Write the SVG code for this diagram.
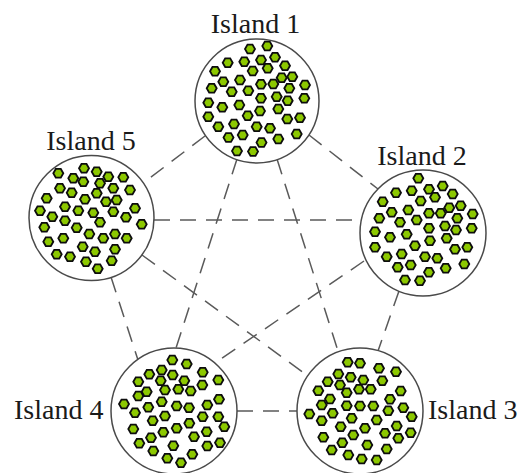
<svg xmlns="http://www.w3.org/2000/svg" xmlns:xlink="http://www.w3.org/1999/xlink" width="521" height="473" viewBox="0 0 521 473">
<style>
.lbl{font-family:"Liberation Serif","Times New Roman",serif;font-size:28px;fill:#1a1a1a}
.isl{fill:#ffffff;stroke:#4a4a4a;stroke-width:1.5}
.edge{stroke:#5a5a5a;stroke-width:1.5;stroke-dasharray:16 10;fill:none}
.hx{fill:#8cc800;stroke:#0d0d0d;stroke-width:1.8}
</style>
<defs>
<polygon id="h" class="hx" points="5,0 2.5,4.33 -2.5,4.33 -5,0 -2.5,-4.33 2.5,-4.33"/>
</defs>
<rect width="521" height="473" fill="#ffffff"/>
<g id="connectors">
<line class="edge" x1="205" y1="136" x2="142" y2="184"/>
<line class="edge" x1="309" y1="135" x2="378" y2="189"/>
<line class="edge" x1="237" y1="159" x2="176" y2="348"/>
<line class="edge" x1="277" y1="159" x2="338" y2="351"/>
<line class="edge" x1="154" y1="220" x2="361" y2="220"/>
<line class="edge" x1="111" y1="277" x2="138" y2="360"/>
<line class="edge" x1="142" y1="255" x2="308" y2="376"/>
<line class="edge" x1="364" y1="261" x2="215" y2="363"/>
<line class="edge" x1="399" y1="291" x2="378" y2="351"/>
<line class="edge" x1="237" y1="411" x2="297" y2="411"/>
</g>
<g id="island1">
<circle class="isl" cx="257" cy="101" r="62"/>
<use xlink:href="#h" x="250" y="49"/><use xlink:href="#h" x="267.3" y="46"/><use xlink:href="#h" x="275" y="57.3"/><use xlink:href="#h" x="261" y="60"/><use xlink:href="#h" x="244.3" y="61.7"/><use xlink:href="#h" x="227.7" y="62.7"/><use xlink:href="#h" x="285" y="65.7"/><use xlink:href="#h" x="267.7" y="68.3"/><use xlink:href="#h" x="252.7" y="71"/><use xlink:href="#h" x="215" y="71.3"/><use xlink:href="#h" x="281.7" y="77.7"/><use xlink:href="#h" x="292.3" y="76.7"/><use xlink:href="#h" x="240" y="80"/><use xlink:href="#h" x="223.3" y="81.7"/><use xlink:href="#h" x="261" y="84.3"/><use xlink:href="#h" x="273.3" y="84"/><use xlink:href="#h" x="305" y="85"/><use xlink:href="#h" x="211.7" y="88.3"/><use xlink:href="#h" x="289.3" y="88.3"/><use xlink:href="#h" x="248.3" y="90.7"/><use xlink:href="#h" x="231.7" y="91.7"/><use xlink:href="#h" x="276.7" y="96.7"/><use xlink:href="#h" x="287.7" y="100.7"/><use xlink:href="#h" x="304.3" y="98.3"/><use xlink:href="#h" x="261" y="98.3"/><use xlink:href="#h" x="208.3" y="102.7"/><use xlink:href="#h" x="239.3" y="105"/><use xlink:href="#h" x="222.3" y="107.3"/><use xlink:href="#h" x="260" y="111"/><use xlink:href="#h" x="278.3" y="109"/><use xlink:href="#h" x="247.7" y="115.7"/><use xlink:href="#h" x="208.3" y="116.7"/><use xlink:href="#h" x="287.3" y="119"/><use xlink:href="#h" x="300" y="117.7"/><use xlink:href="#h" x="234" y="124"/><use xlink:href="#h" x="270" y="128.3"/><use xlink:href="#h" x="218.3" y="126.7"/><use xlink:href="#h" x="256.7" y="126.7"/><use xlink:href="#h" x="242.7" y="135"/><use xlink:href="#h" x="296.7" y="134"/><use xlink:href="#h" x="278.3" y="139"/><use xlink:href="#h" x="261.5" y="142.5"/><use xlink:href="#h" x="228.5" y="137.5"/><use xlink:href="#h" x="237" y="151"/><use xlink:href="#h" x="253" y="151.5"/>
</g>
<g id="island5">
<circle class="isl" cx="91.5" cy="218" r="62.5"/>
<use xlink:href="#h" x="58.3" y="173.3"/><use xlink:href="#h" x="84" y="168.3"/><use xlink:href="#h" x="96.7" y="171.7"/><use xlink:href="#h" x="73.3" y="178.3"/><use xlink:href="#h" x="83.3" y="181.7"/><use xlink:href="#h" x="108.3" y="176.7"/><use xlink:href="#h" x="123.3" y="177.3"/><use xlink:href="#h" x="60" y="188.3"/><use xlink:href="#h" x="100" y="183.3"/><use xlink:href="#h" x="113.3" y="188.3"/><use xlink:href="#h" x="130" y="190"/><use xlink:href="#h" x="71.7" y="192.7"/><use xlink:href="#h" x="96.7" y="193.3"/><use xlink:href="#h" x="46.7" y="198.3"/><use xlink:href="#h" x="85" y="199.3"/><use xlink:href="#h" x="106" y="201.7"/><use xlink:href="#h" x="116.7" y="200"/><use xlink:href="#h" x="65" y="206.7"/><use xlink:href="#h" x="135" y="208.3"/><use xlink:href="#h" x="40" y="210.7"/><use xlink:href="#h" x="78.3" y="210.7"/><use xlink:href="#h" x="93.3" y="212.7"/><use xlink:href="#h" x="113.3" y="211.7"/><use xlink:href="#h" x="52.3" y="216.7"/><use xlink:href="#h" x="126" y="217.3"/><use xlink:href="#h" x="65" y="220.7"/><use xlink:href="#h" x="100" y="222.3"/><use xlink:href="#h" x="141.7" y="224.3"/><use xlink:href="#h" x="44.3" y="227.3"/><use xlink:href="#h" x="76.7" y="227.7"/><use xlink:href="#h" x="89.3" y="234"/><use xlink:href="#h" x="115" y="234"/><use xlink:href="#h" x="63.3" y="238.3"/><use xlink:href="#h" x="103.3" y="238.3"/><use xlink:href="#h" x="126.7" y="238.3"/><use xlink:href="#h" x="48.3" y="241.7"/><use xlink:href="#h" x="82.7" y="246.7"/><use xlink:href="#h" x="115" y="249.3"/><use xlink:href="#h" x="95" y="251.7"/><use xlink:href="#h" x="56.7" y="254.3"/><use xlink:href="#h" x="70" y="256.7"/><use xlink:href="#h" x="111.7" y="260.7"/><use xlink:href="#h" x="86" y="261.7"/><use xlink:href="#h" x="97.7" y="268.7"/>
</g>
<g id="island2">
<circle class="isl" cx="423" cy="233" r="63"/>
<use xlink:href="#h" x="418.3" y="178.3"/><use xlink:href="#h" x="396" y="192.7"/><use xlink:href="#h" x="411.7" y="190.7"/><use xlink:href="#h" x="429" y="189.3"/><use xlink:href="#h" x="442.7" y="186"/><use xlink:href="#h" x="452.7" y="194"/><use xlink:href="#h" x="435" y="197.3"/><use xlink:href="#h" x="420.7" y="201"/><use xlink:href="#h" x="382.7" y="201.7"/><use xlink:href="#h" x="460.7" y="205.7"/><use xlink:href="#h" x="449.3" y="207.7"/><use xlink:href="#h" x="408.3" y="210"/><use xlink:href="#h" x="391.7" y="212.3"/><use xlink:href="#h" x="429" y="213.3"/><use xlink:href="#h" x="440.7" y="213.3"/><use xlink:href="#h" x="472.7" y="214"/><use xlink:href="#h" x="379.3" y="218.3"/><use xlink:href="#h" x="457.3" y="218.3"/><use xlink:href="#h" x="400" y="222.3"/><use xlink:href="#h" x="416.7" y="220"/><use xlink:href="#h" x="445" y="226"/><use xlink:href="#h" x="429" y="228.3"/><use xlink:href="#h" x="456" y="230"/><use xlink:href="#h" x="471.7" y="228.3"/><use xlink:href="#h" x="375" y="231.7"/><use xlink:href="#h" x="406.7" y="234.3"/><use xlink:href="#h" x="390" y="237.3"/><use xlink:href="#h" x="446.7" y="238.3"/><use xlink:href="#h" x="430" y="240.7"/><use xlink:href="#h" x="375" y="247.3"/><use xlink:href="#h" x="415" y="245.7"/><use xlink:href="#h" x="455" y="249.3"/><use xlink:href="#h" x="467.3" y="247.3"/><use xlink:href="#h" x="401.7" y="254"/><use xlink:href="#h" x="386.7" y="256.7"/><use xlink:href="#h" x="425" y="256.7"/><use xlink:href="#h" x="437.3" y="258.3"/><use xlink:href="#h" x="410.7" y="265"/><use xlink:href="#h" x="397.7" y="267.3"/><use xlink:href="#h" x="464.3" y="264"/><use xlink:href="#h" x="445.7" y="268.3"/><use xlink:href="#h" x="429" y="272.3"/><use xlink:href="#h" x="405" y="280"/><use xlink:href="#h" x="420" y="280.7"/>
</g>
<g id="island4">
<circle class="isl" cx="174" cy="411" r="63"/>
<use xlink:href="#h" x="172.3" y="360"/><use xlink:href="#h" x="186.7" y="364"/><use xlink:href="#h" x="161.7" y="370"/><use xlink:href="#h" x="149.3" y="374.3"/><use xlink:href="#h" x="172.7" y="375"/><use xlink:href="#h" x="138.3" y="381.7"/><use xlink:href="#h" x="160.7" y="380.7"/><use xlink:href="#h" x="184.3" y="380.7"/><use xlink:href="#h" x="202.7" y="372.3"/><use xlink:href="#h" x="218.3" y="380"/><use xlink:href="#h" x="202.3" y="385"/><use xlink:href="#h" x="146.7" y="391.7"/><use xlink:href="#h" x="165" y="390"/><use xlink:href="#h" x="178.3" y="389.3"/><use xlink:href="#h" x="190.7" y="391"/><use xlink:href="#h" x="138.3" y="396"/><use xlink:href="#h" x="124" y="404"/><use xlink:href="#h" x="161.7" y="401.7"/><use xlink:href="#h" x="176.7" y="406"/><use xlink:href="#h" x="189" y="407.7"/><use xlink:href="#h" x="207.3" y="405"/><use xlink:href="#h" x="219" y="399.3"/><use xlink:href="#h" x="148.3" y="407.3"/><use xlink:href="#h" x="135" y="412.7"/><use xlink:href="#h" x="165" y="416"/><use xlink:href="#h" x="202.7" y="416.7"/><use xlink:href="#h" x="218.3" y="416.7"/><use xlink:href="#h" x="152.7" y="420.7"/><use xlink:href="#h" x="133.3" y="429"/><use xlink:href="#h" x="163.3" y="432.3"/><use xlink:href="#h" x="176.7" y="428.3"/><use xlink:href="#h" x="189.3" y="423.3"/><use xlink:href="#h" x="206.7" y="431.7"/><use xlink:href="#h" x="224.3" y="426.7"/><use xlink:href="#h" x="151" y="437.7"/><use xlink:href="#h" x="194" y="436.7"/><use xlink:href="#h" x="139.3" y="443.3"/><use xlink:href="#h" x="173.3" y="445.7"/><use xlink:href="#h" x="207.3" y="446"/><use xlink:href="#h" x="220" y="442.7"/><use xlink:href="#h" x="153.3" y="451"/><use xlink:href="#h" x="192.3" y="454.3"/><use xlink:href="#h" x="167.3" y="458.3"/><use xlink:href="#h" x="181" y="462.7"/>
</g>
<g id="island3">
<circle class="isl" cx="360" cy="411" r="63"/>
<use xlink:href="#h" x="347.7" y="362.3"/><use xlink:href="#h" x="360" y="363.3"/><use xlink:href="#h" x="379" y="368.3"/><use xlink:href="#h" x="396" y="371.7"/><use xlink:href="#h" x="338.3" y="374"/><use xlink:href="#h" x="350.7" y="377.3"/><use xlink:href="#h" x="363.3" y="380"/><use xlink:href="#h" x="382.3" y="380.7"/><use xlink:href="#h" x="327.7" y="381.7"/><use xlink:href="#h" x="340" y="385"/><use xlink:href="#h" x="318.3" y="390.7"/><use xlink:href="#h" x="346.7" y="392.7"/><use xlink:href="#h" x="359" y="389.3"/><use xlink:href="#h" x="370.7" y="389.3"/><use xlink:href="#h" x="400.7" y="391"/><use xlink:href="#h" x="330" y="399"/><use xlink:href="#h" x="321.7" y="405"/><use xlink:href="#h" x="346.7" y="405.7"/><use xlink:href="#h" x="360" y="406"/><use xlink:href="#h" x="373.3" y="406"/><use xlink:href="#h" x="390" y="399.3"/><use xlink:href="#h" x="403.3" y="407.7"/><use xlink:href="#h" x="309.3" y="414"/><use xlink:href="#h" x="332.7" y="413.3"/><use xlink:href="#h" x="388.3" y="410.7"/><use xlink:href="#h" x="411.7" y="416.7"/><use xlink:href="#h" x="321.7" y="420.7"/><use xlink:href="#h" x="351.7" y="418.3"/><use xlink:href="#h" x="376.7" y="420"/><use xlink:href="#h" x="396.7" y="426"/><use xlink:href="#h" x="340.7" y="426.7"/><use xlink:href="#h" x="365" y="428.3"/><use xlink:href="#h" x="410.7" y="432.7"/><use xlink:href="#h" x="353.3" y="435"/><use xlink:href="#h" x="385" y="433.3"/><use xlink:href="#h" x="323.3" y="437.3"/><use xlink:href="#h" x="398.3" y="438.3"/><use xlink:href="#h" x="342.3" y="442.7"/><use xlink:href="#h" x="367.3" y="445"/><use xlink:href="#h" x="331.7" y="450"/><use xlink:href="#h" x="386.7" y="449"/><use xlink:href="#h" x="348.3" y="455"/><use xlink:href="#h" x="361.7" y="459"/><use xlink:href="#h" x="376.7" y="460"/>
</g>
<g id="labels">
<text class="lbl" x="255.5" y="33" text-anchor="middle">Island 1</text>
<text class="lbl" x="91" y="150" text-anchor="middle">Island 5</text>
<text class="lbl" x="422" y="165" text-anchor="middle">Island 2</text>
<text class="lbl" x="14" y="419">Island 4</text>
<text class="lbl" x="428" y="419">Island 3</text>
</g>
</svg>
